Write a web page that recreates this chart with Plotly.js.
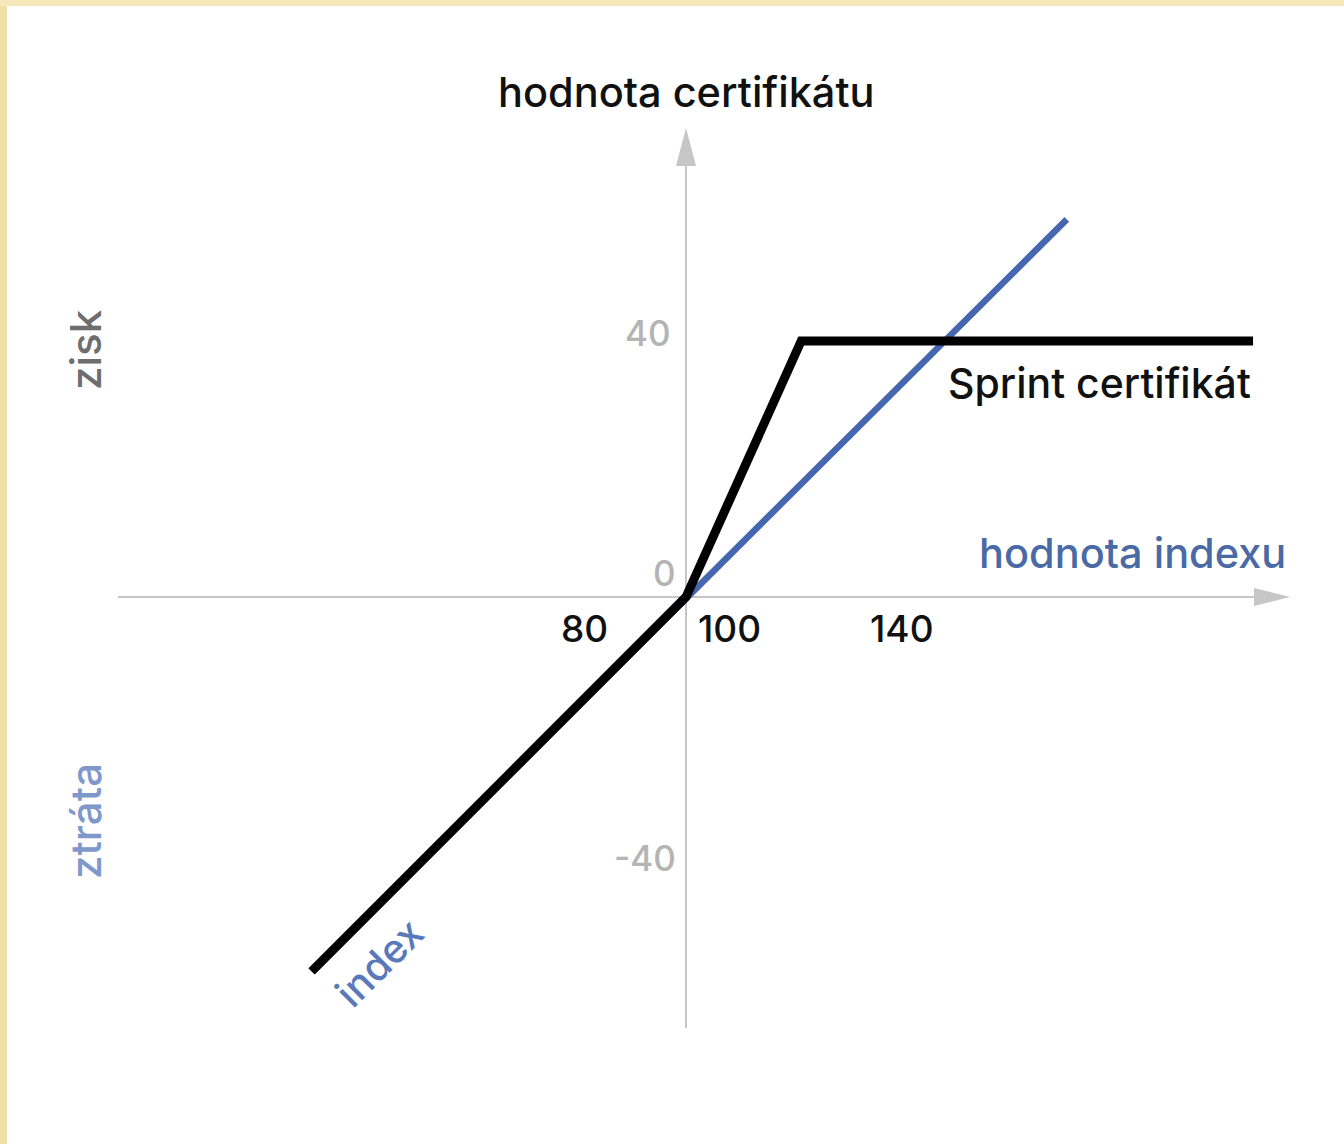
<!DOCTYPE html>
<html>
<head>
<meta charset="utf-8">
<script src="https://cdn.plot.ly/plotly-3.0.1.min.js"></script>
<style>html,body{margin:0;padding:0;background:#fff;}#chart{width:1344px;height:1144px;}</style>
</head>
<body>
<div id="chart"></div>
<script>
// ---- data ----
const indexX = [41.5, 159.5];
const indexY = [-58.5, 59];
const sprintX = [41.5, 100, 118, 188.6];
const sprintY = [-58.5, 0, 40, 40];
const xTickLabels = ['80', '100', '140'];
const yTickLabels = ['40', '0', '-40'];
const titleY = 'hodnota certifikátu';
const titleX = 'hodnota indexu';
const sprintLabel = 'Sprint certifikát';
const indexLabel = 'index';
const gainLabel = 'zisk';
const lossLabel = 'ztráta';

// ---- geometry (pixel -> data scale) ----
const W = 1344, H = 1144;
const ox = 686, oy = 597, ppu = 6.4;
const xr = [100 - ox / ppu, 100 + (W - ox) / ppu];
const yr = [-(H - oy) / ppu, oy / ppu];
const px = p => 100 + (p - ox) / ppu;
const py = p => (oy - p) / ppu;

const axisGrey = '#c6c6c6';
const font = 'Inter, DejaVu Sans, Liberation Sans, sans-serif';

const traces = [
  {x: indexX, y: indexY, mode: 'lines', line: {color: '#4666b0', width: 6.5}, hoverinfo: 'skip', showlegend: false},
  {x: sprintX, y: sprintY, mode: 'lines', line: {color: '#000000', width: 9}, hoverinfo: 'skip', showlegend: false}
];

// axis lines and arrowheads
const hx0 = px(118), hx1 = px(1254), hTip = px(1290);
const vy0 = py(1028), vy1 = py(166), vTip = py(128);
const shapes = [
  {type: 'rect', xref: 'paper', yref: 'paper', x0: 0, x1: 7 / W, y0: 0, y1: 1, fillcolor: '#f1e0a6', line: {width: 0}, layer: 'below'},
  {type: 'rect', xref: 'paper', yref: 'paper', x0: 0, x1: 1, y0: 1 - 6 / H, y1: 1, fillcolor: '#f6e8b8', line: {width: 0}, layer: 'below'},
  {type: 'line', x0: hx0, x1: hx1, y0: 0, y1: 0, line: {color: axisGrey, width: 2}, layer: 'below'},
  {type: 'line', x0: 100, x1: 100, y0: vy0, y1: vy1, line: {color: axisGrey, width: 2}, layer: 'below'},
  {type: 'path', path: `M${hx1},${py(588)} L${hTip},0 L${hx1},${py(606)} Z`, fillcolor: axisGrey, line: {width: 0}, layer: 'below'},
  {type: 'path', path: `M${px(676)},${vy1} L100,${vTip} L${px(696)},${vy1} Z`, fillcolor: axisGrey, line: {width: 0}, layer: 'below'}
];

const ann = (text, x, y, size, color, extra) => Object.assign({
  text: text, x: x, y: y, xref: 'x', yref: 'y', showarrow: false,
  font: {family: font, size: size, color: color, weight: 500}, xanchor: 'center', yanchor: 'middle'
}, extra || {});

const annotations = [
  ann(titleY, 100, py(92), 41.5, '#111111'),
  ann(sprintLabel, px(1099), py(383), 41, '#111111'),
  ann(titleX, px(1132), py(553), 41.5, '#4a6aa6'),
  ann(gainLabel, px(85), py(350), 42, '#6e6e6e', {textangle: -90}),
  ann(lossLabel, px(85), py(821), 42, '#7f98cc', {textangle: -90}),
  ann(indexLabel, px(379), py(962), 40, '#5a79ba', {textangle: -45}),
  // y tick labels
  ann(yTickLabels[0], px(648), py(333), 35, '#b4b4b4'),
  ann(yTickLabels[1], px(664), py(573), 35, '#b4b4b4'),
  ann(yTickLabels[2], px(645), py(858), 35, '#b4b4b4'),
  // x tick labels
  ann(xTickLabels[0], px(584), py(628), 37, '#111111'),
  ann(xTickLabels[1], px(729), py(628), 37, '#111111'),
  ann(xTickLabels[2], px(902), py(628), 37, '#111111')
];

const layout = {
  width: W, height: H,
  margin: {l: 0, r: 0, t: 0, b: 0},
  paper_bgcolor: '#ffffff', plot_bgcolor: '#ffffff',
  xaxis: {range: xr, visible: false, fixedrange: true},
  yaxis: {range: yr, visible: false, fixedrange: true},
  shapes: shapes,
  annotations: annotations,
  showlegend: false
};

Plotly.newPlot('chart', traces, layout, {staticPlot: true, displayModeBar: false});
</script>
</body>
</html>
